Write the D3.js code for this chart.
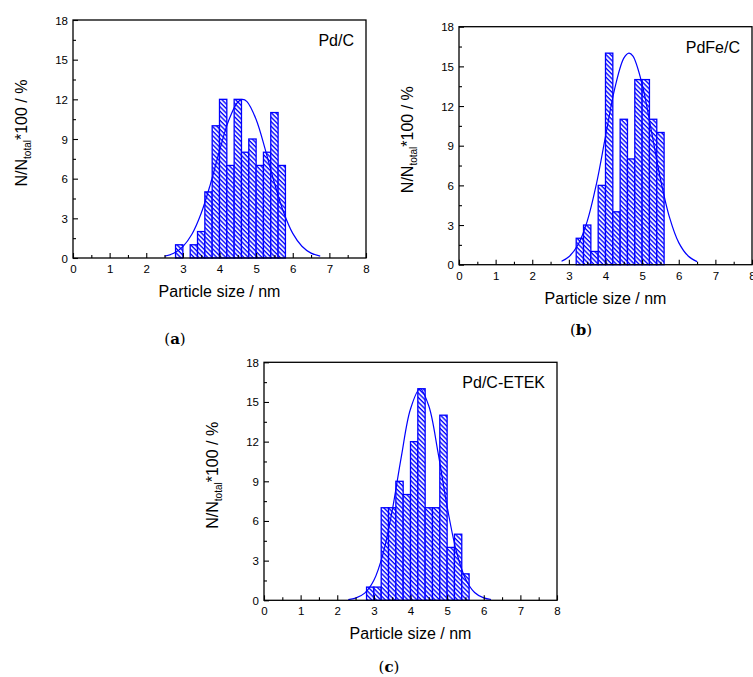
<!DOCTYPE html>
<html>
<head>
<meta charset="utf-8">
<script src="https://cdn.jsdelivr.net/npm/d3@7"></script>
<style>
  body { margin: 0; background: #fff; }
  svg { display: block; font-family: "Liberation Sans", Arial, sans-serif; }
</style>
</head>
<body>
<div id="chart"></div>
<script>
// histogram bins (left edge, nm) and percentages
const binWidth = 0.2;
const binsA = [2.8, 3.2, 3.4, 3.6, 3.8, 4.0, 4.2, 4.4, 4.6, 4.8, 5.0, 5.2, 5.4, 5.6];
const countsA = [1, 1, 2, 5, 10, 12, 7, 12, 8, 9, 7, 8, 11, 7];
const binsB = [3.2, 3.4, 3.6, 3.8, 4.0, 4.2, 4.4, 4.6, 4.8, 5.0, 5.2, 5.4];
const countsB = [2, 3, 1, 6, 16, 4, 11, 8, 14, 14, 11, 10];
const binsC = [2.8, 3.0, 3.2, 3.4, 3.6, 3.8, 4.0, 4.2, 4.4, 4.6, 4.8, 5.0, 5.2, 5.4];
const countsC = [1, 1, 7, 7, 9, 8, 12, 16, 7, 7, 14, 4, 5, 2];

// fitted curves
const fitXA = [2.5, 2.75, 3.0, 3.25, 3.5, 3.75, 4.0, 4.25, 4.5, 4.63, 4.75, 5.0, 5.25, 5.5, 5.75, 6.0, 6.25, 6.5, 6.75];
const fitYA = [0.13, 0.36, 0.86, 1.81, 3.38, 5.57, 8.10, 10.40, 11.80, 12.0, 11.83, 10.48, 8.20, 5.67, 3.46, 1.86, 0.89, 0.37, 0.14];
const fitXB = [2.8, 3.0, 3.25, 3.5, 3.75, 4.0, 4.25, 4.5, 4.64, 4.75, 5.0, 5.25, 5.5, 5.75, 6.0, 6.25, 6.5];
const fitYB = [0.26, 0.60, 1.51, 3.28, 6.08, 9.70, 13.29, 15.62, 16.0, 15.77, 13.66, 10.16, 6.49, 3.56, 1.67, 0.68, 0.23];
const fitXC = [2.3, 2.5, 2.75, 3.0, 3.25, 3.5, 3.75, 4.0, 4.26, 4.5, 4.75, 5.0, 5.25, 5.5, 5.75, 6.0, 6.2];
const fitYC = [0.05, 0.16, 0.54, 1.51, 3.51, 6.78, 10.87, 14.47, 16.0, 14.69, 11.20, 7.09, 3.73, 1.63, 0.59, 0.18, 0.06];

const xTicks = [0, 1, 2, 3, 4, 5, 6, 7, 8];
const yTicks = [0, 3, 6, 9, 12, 15, 18];
const xTitle = "Particle size / nm";

const panels = [
  {label: "Pd/C", caption: "a", bins: binsA, counts: countsA, fx: fitXA, fy: fitYA,
   left: 73, top: 20, capX: 175, capY: 344},
  {label: "PdFe/C", caption: "b", bins: binsB, counts: countsB, fx: fitXB, fy: fitYB,
   left: 459, top: 26.7, capX: 581, capY: 335},
  {label: "Pd/C-ETEK", caption: "c", bins: binsC, counts: countsC, fx: fitXC, fy: fitYC,
   left: 264, top: 362.3, capX: 389, capY: 672}
];

const W = 753, H = 677;
const plotW = 293, plotH = 238;
const blue = "#0000ff";

const svg = d3.select("#chart").append("svg")
  .attr("width", W)
  .attr("height", H);

// diagonal hatch used by the bars
const pat = svg.append("defs").append("pattern")
  .attr("id", "hatch")
  .attr("patternUnits", "userSpaceOnUse")
  .attr("width", 3.2)
  .attr("height", 3.2)
  .attr("patternTransform", "rotate(-45)");
pat.append("rect").attr("width", 3.2).attr("height", 3.2).attr("fill", "#ffffff");
pat.append("line")
  .attr("x1", 1).attr("y1", 0).attr("x2", 1).attr("y2", 3.2)
  .attr("stroke", blue).attr("stroke-width", 1.4);

panels.forEach(p => drawPanel(p));

function drawPanel(p) {
  const x = d3.scaleLinear().domain([0, 8]).range([0, plotW]);
  const y = d3.scaleLinear().domain([0, 18]).range([plotH, 0]);

  const g = svg.append("g")
    .attr("transform", `translate(${p.left},${p.top})`);

  // bars
  g.selectAll("rect.bar")
    .data(p.bins.map((b, i) => ({x0: b, v: p.counts[i]})))
    .enter().append("rect")
    .attr("class", "bar")
    .attr("x", d => x(d.x0))
    .attr("y", d => y(d.v))
    .attr("width", x(binWidth) - x(0))
    .attr("height", d => y(0) - y(d.v))
    .attr("fill", "url(#hatch)")
    .attr("stroke", blue)
    .attr("stroke-width", 1.3);

  // fitted curve
  const line = d3.line()
    .x(d => x(d[0]))
    .y(d => y(d[1]))
    .curve(d3.curveCatmullRom);
  g.append("path")
    .datum(p.fx.map((v, i) => [v, p.fy[i]]))
    .attr("d", line)
    .attr("fill", "none")
    .attr("stroke", blue)
    .attr("stroke-width", 1.2);

  // frame
  g.append("rect")
    .attr("width", plotW)
    .attr("height", plotH)
    .attr("fill", "none")
    .attr("stroke", "#000")
    .attr("stroke-width", 1.3);

  // x axis, ticks pointing in
  const xAx = g.append("g").attr("transform", `translate(0,${plotH})`);
  xAx.call(d3.axisBottom(x).tickValues(d3.range(0, 8.01, 0.5)).tickSize(0).tickFormat(""));
  xAx.select(".domain").remove();
  xAx.selectAll(".tick").append("line")
    .attr("y2", d => Number.isInteger(d) ? -5 : -3)
    .attr("stroke", "#000").attr("stroke-width", 1.1);
  xAx.selectAll(".tick")
    .filter(d => xTicks.includes(d))
    .append("text")
    .attr("y", 15)
    .attr("text-anchor", "middle")
    .attr("fill", "#000")
    .attr("font-size", 11.5)
    .text(d => d);

  // y axis
  const yAx = g.append("g");
  yAx.call(d3.axisLeft(y).tickValues(d3.range(0, 18.01, 1.5)).tickSize(0).tickFormat(""));
  yAx.select(".domain").remove();
  yAx.selectAll(".tick").append("line")
    .attr("x2", d => yTicks.includes(d) ? 5 : 3)
    .attr("stroke", "#000").attr("stroke-width", 1.1);
  yAx.selectAll(".tick")
    .filter(d => yTicks.includes(d))
    .append("text")
    .attr("x", -5)
    .attr("dy", "0.35em")
    .attr("text-anchor", "end")
    .attr("fill", "#000")
    .attr("font-size", 11.5)
    .text(d => d);

  // axis titles
  g.append("text")
    .attr("x", plotW / 2)
    .attr("y", plotH + 39)
    .attr("text-anchor", "middle")
    .attr("font-size", 16)
    .text(xTitle);

  const yt = g.append("text")
    .attr("transform", `translate(-46,${plotH / 2 - 6}) rotate(-90)`)
    .attr("text-anchor", "middle")
    .attr("font-size", 16);
  yt.append("tspan").text("N/N");
  yt.append("tspan").attr("font-size", 10).attr("dy", 4).text("total");
  yt.append("tspan").attr("dy", -4).text("*100 / %");

  // sample label
  g.append("text")
    .attr("x", plotW - 12)
    .attr("y", 26)
    .attr("text-anchor", "end")
    .attr("font-size", 16)
    .text(p.label);

  // caption
  const cap = svg.append("text")
    .attr("x", p.capX)
    .attr("y", p.capY)
    .attr("text-anchor", "middle")
    .attr("font-family", "'DejaVu Serif', 'Liberation Serif', serif")
    .attr("font-size", 15);
  cap.append("tspan").text("(");
  cap.append("tspan").attr("font-weight", "bold").text(p.caption);
  cap.append("tspan").text(")");
}
</script>
</body>
</html>
